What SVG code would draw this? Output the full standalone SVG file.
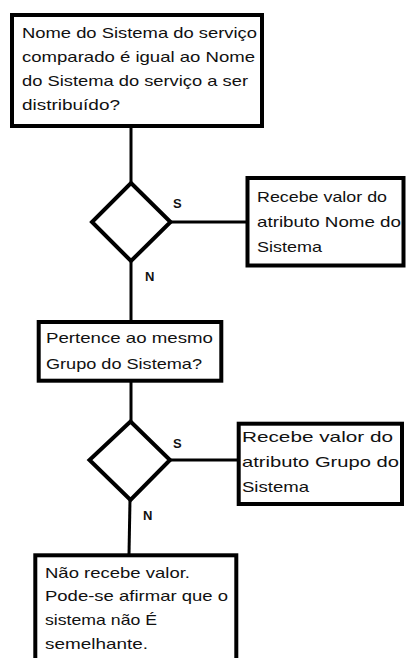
<svg xmlns="http://www.w3.org/2000/svg" width="406" height="658" viewBox="0 0 406 658">
<style>
.box{fill:#fff;stroke:#000;stroke-width:4}
.dia{fill:#fff;stroke:#000;stroke-width:4;stroke-linejoin:miter}
.con{stroke:#000;stroke-width:3;fill:none}
.t{font-family:"Liberation Sans",Arial,sans-serif;font-size:14.5px;fill:#111}
.lbl{font-family:"Liberation Sans",Arial,sans-serif;font-size:13px;font-weight:bold;fill:#111}
</style>
<rect width="406" height="658" fill="#fff"/>
<g id="connectors">
<line class="con" x1="131" y1="126" x2="131" y2="184"/>
<line class="con" x1="131" y1="260" x2="131" y2="322"/>
<line class="con" x1="170" y1="222" x2="248" y2="222"/>
<line class="con" x1="131" y1="381" x2="131" y2="423"/>
<line class="con" x1="170" y1="460" x2="239" y2="460"/>
<line class="con" x1="130" y1="499" x2="129" y2="555"/>
</g>
<g id="q1">
<rect class="box" x="12" y="15" width="250" height="111"/>
<text class="t" x="22" y="38" textLength="235" lengthAdjust="spacingAndGlyphs">Nome do Sistema do serviço</text>
<text class="t" x="22" y="62" textLength="233" lengthAdjust="spacingAndGlyphs">comparado é igual ao Nome</text>
<text class="t" x="22" y="86" textLength="226" lengthAdjust="spacingAndGlyphs">do Sistema do serviço a ser</text>
<text class="t" x="22" y="110" textLength="98" lengthAdjust="spacingAndGlyphs">distribuído?</text>
</g>
<g id="d1">
<polygon class="dia" points="131,183 170.5,222 131,261 92,222"/>
<text class="lbl" x="173" y="208">S</text>
<text class="lbl" x="145" y="281">N</text>
</g>
<g id="r1">
<rect class="box" x="247.5" y="178" width="156" height="87.5"/>
<text class="t" x="257" y="202" textLength="130" lengthAdjust="spacingAndGlyphs">Recebe valor do</text>
<text class="t" x="257" y="227" textLength="144" lengthAdjust="spacingAndGlyphs">atributo Nome do</text>
<text class="t" x="257" y="252" textLength="65" lengthAdjust="spacingAndGlyphs">Sistema</text>
</g>
<g id="q2">
<rect class="box" x="38.7" y="322" width="182.6" height="58.7"/>
<text class="t" x="46" y="343" textLength="167" lengthAdjust="spacingAndGlyphs">Pertence ao mesmo</text>
<text class="t" x="46" y="369" textLength="156" lengthAdjust="spacingAndGlyphs">Grupo do Sistema?</text>
</g>
<g id="d2">
<polygon class="dia" points="130.5,421.5 170,460 130.5,500 89.5,460"/>
<text class="lbl" x="173" y="448">S</text>
<text class="lbl" x="143" y="520">N</text>
</g>
<g id="r2">
<rect class="box" x="238.7" y="423.7" width="163.3" height="80.3"/>
<text class="t" x="242" y="442" textLength="151" lengthAdjust="spacingAndGlyphs">Recebe valor do</text>
<text class="t" x="242" y="467" textLength="157" lengthAdjust="spacingAndGlyphs">atributo Grupo do</text>
<text class="t" x="242" y="492" textLength="67" lengthAdjust="spacingAndGlyphs">Sistema</text>
</g>
<g id="end">
<rect class="box" x="35.3" y="555.3" width="201" height="120"/>
<text class="t" x="45" y="578" textLength="145" lengthAdjust="spacingAndGlyphs">Não recebe valor.</text>
<text class="t" x="45" y="601" textLength="183" lengthAdjust="spacingAndGlyphs">Pode-se afirmar que o</text>
<text class="t" x="45" y="625" textLength="112" lengthAdjust="spacingAndGlyphs">sistema não É</text>
<text class="t" x="45" y="649" textLength="103" lengthAdjust="spacingAndGlyphs">semelhante.</text>
</g>
</svg>
